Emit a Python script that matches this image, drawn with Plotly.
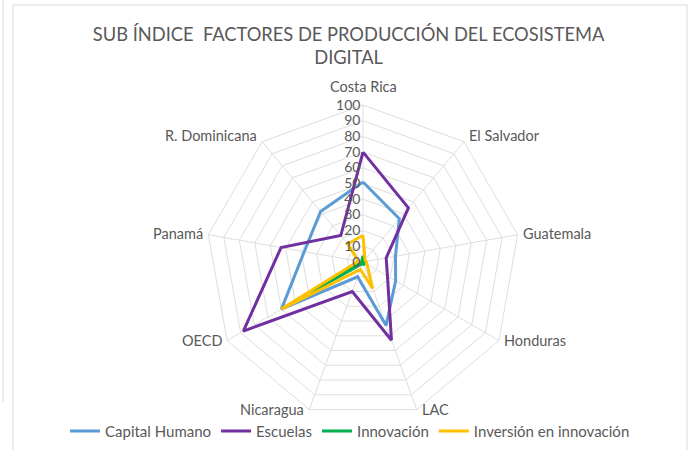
import math
import plotly.graph_objects as go

categories = ["Costa Rica", "El Salvador", "Guatemala", "Honduras", "LAC",
              "Nicaragua", "OECD", "Panamá", "R. Dominicana"]
capital_humano = [51, 36, 21, 24, 43, 10, 60, 38, 42]
escuelas = [70, 45, 15, 18, 53, 20, 88, 53, 22]
innovacion = [4, 1, 1, 1, 2, 1, 58, 1, 1]
inversion = [17, 2, 2, 3, 18, 5, 60, 3, 15]

series = [
    ("Capital Humano", capital_humano, "#5B9BD5"),
    ("Escuelas", escuelas, "#7030A0"),
    ("Innovación", innovacion, "#00B050"),
    ("Inversión en innovación", inversion, "#FFC000"),
]

fig = go.Figure()
for name, vals, color in series:
    fig.add_trace(go.Scatterpolar(
        r=vals + vals[:1],
        theta=categories + categories[:1],
        mode="lines",
        name=name,
        line=dict(color=color, width=3),
    ))

W, H = 689, 450
cx, cy, R = 363, 262, 157
FONT = "Lato, Open Sans, sans-serif"
GRID = "#DEDEDE"
TXT = "#595959"

# category labels placed Excel-style around the polygon vertices
annotations = []
n = len(categories)
for i, cat in enumerate(categories):
    th = math.radians(i * 360 / n)
    s, c = math.sin(th), math.cos(th)
    vx, vy = cx + R * s, cy - R * c
    if abs(s) < 0.1:
        xa, ya, x, y = "center", "bottom", vx, vy - 8
    else:
        xa = "left" if s > 0 else "right"
        x = vx + (3 if s > 0 else -3)
        y = vy - (8.5 * c if c > 0 else 0)
        ya = "middle"
    annotations.append(dict(
        text=cat, xref="paper", yref="paper", x=x / W, y=1 - y / H,
        xanchor=xa, yanchor=ya, showarrow=False,
        font=dict(size=14.5, color=TXT, family=FONT),
    ))

fig.update_layout(
    width=W, height=H,
    margin=dict(l=0, r=0, t=0, b=0),
    paper_bgcolor="white",
    plot_bgcolor="white",
    font=dict(family=FONT, color=TXT, size=14),
    title=dict(
        text="SUB ÍNDICE  FACTORES DE PRODUCCIÓN DEL ECOSISTEMA<br>DIGITAL",
        x=0.506, xanchor="center", y=0.91, yanchor="top",
        font=dict(size=18.3, color=TXT, family=FONT),
    ),
    polar=dict(
        domain=dict(x=[(cx - R) / W, (cx + R) / W],
                    y=[(H - cy - R) / H, (H - cy + R) / H]),
        bgcolor="white",
        gridshape="linear",
        radialaxis=dict(
            range=[0, 100], dtick=10, angle=90, side="counterclockwise",
            tickangle=90,
            showline=False, gridcolor=GRID, gridwidth=1,
            ticks="", tickfont=dict(size=14, color=TXT),
        ),
        angularaxis=dict(
            direction="clockwise", rotation=90,
            showline=True, linecolor=GRID,
            gridcolor=GRID, ticks="", showticklabels=False,
        ),
    ),
    legend=dict(
        orientation="h", x=0.508, xanchor="center", y=0.005, yanchor="bottom",
        font=dict(size=15, color=TXT),
        itemwidth=30, tracegroupgap=0, bgcolor="rgba(0,0,0,0)",
    ),
    showlegend=True,
    annotations=annotations,
    shapes=[
        dict(type="rect", xref="paper", yref="paper",
             x0=13 / W, x1=687 / W, y0=-0.05, y1=1 - 5 / H,
             line=dict(color="#D9D9D9", width=1)),
        dict(type="line", xref="paper", yref="paper",
             x0=3 / W, x1=3 / W, y0=1, y1=1 - 402 / H,
             line=dict(color="#D9D9D9", width=1)),
    ],
)

fig.write_html("out.html", config={"displayModeBar": False},
               post_script="document.body.style.margin='0px';")
